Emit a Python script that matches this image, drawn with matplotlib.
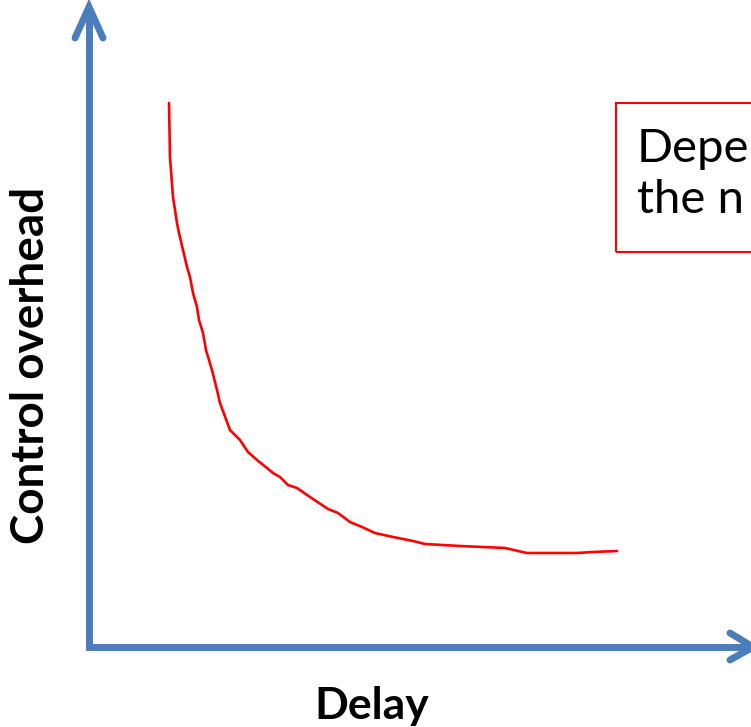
import matplotlib
matplotlib.use("Agg")
import matplotlib.pyplot as plt
from matplotlib.patches import Rectangle

# curve: delay vs control overhead (arbitrary units, origin at the axes corner)
delay = [80, 81, 84, 88, 90, 94, 98, 101, 104, 108, 110, 114, 117, 123, 128, 131,
         141, 151, 159, 168, 178, 184, 191, 199, 208, 221, 239, 249, 261, 273, 286,
         304, 324, 336, 371, 416, 438, 488, 504, 528]
overhead = [544, 490, 450, 424, 414, 397, 380, 370, 354, 340, 327, 314, 297, 277, 257, 244,
            217, 207, 195, 187, 179, 174, 170, 162, 159, 150, 138, 134, 125, 120, 114,
            110, 106, 103, 101, 99, 94, 94, 95, 96]

x_label = "Delay"
y_label = "Control overhead"
# only the part of the note that is visible inside the frame
note_lines = ["Depe", "the n"]

blue = "#4a7ebb"
font = ["Lato", "DejaVu Sans"]

fig = plt.figure(figsize=(7.51, 7.27), dpi=100)
ax = fig.add_axes([0, 0, 1, 1])
ax.set_xlim(-89, 662)
ax.set_ylim(-80, 647)
ax.axis("off")

# axes with open arrow heads
lw = 5
ax.plot([0, 0], [-3, 638], color=blue, lw=lw, solid_capstyle="butt")
ax.plot([-3, 660], [0, 0], color=blue, lw=lw, solid_capstyle="butt")
ax.plot([-14, 0, 14], [609, 640, 609], color=blue, lw=lw,
        solid_capstyle="round", solid_joinstyle="miter")
ax.plot([641, 664, 641], [14, 0, -13], color=blue, lw=lw,
        solid_capstyle="round", solid_joinstyle="miter")

# the curve
ax.plot(delay, overhead, color="red", lw=1.9, solid_capstyle="round")

# labels
ax.text(283, -59, x_label, fontsize=32, fontweight="bold", family=font,
        ha="center", va="center")
ax.text(-58, 282, y_label, fontsize=33, fontweight="bold", family=font,
        ha="center", va="center", rotation=90)

# note box, cut by the right edge
ax.add_patch(Rectangle((527, 395), 400, 149, fill=False, edgecolor="red", lw=1.5))
for i, line in enumerate(note_lines):
    ax.text(548, 485 - 51 * i, line, fontsize=34, family=font,
            ha="left", va="baseline")

fig.savefig("out.png", dpi=100)
